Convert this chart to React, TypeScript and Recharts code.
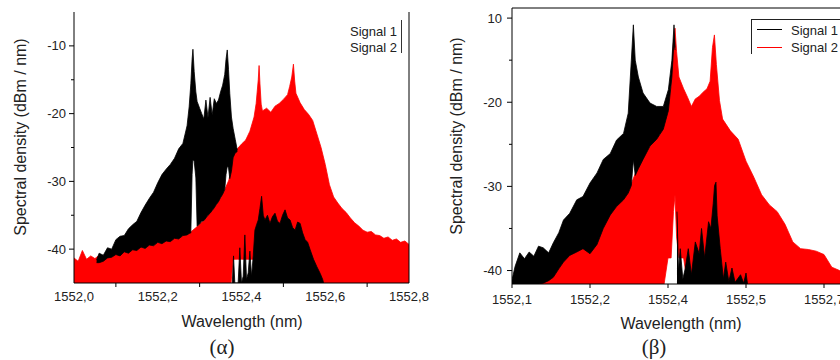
import { ComposedChart, Area, XAxis, YAxis, ReferenceLine } from 'recharts';

// ---- panel (α) ----
const alphaRedWl = [
  1552.0, 1552.01, 1552.02, 1552.03, 1552.04, 1552.05, 1552.06, 1552.07, 1552.08, 1552.09,
  1552.1, 1552.11, 1552.12, 1552.13, 1552.14, 1552.15, 1552.16, 1552.17, 1552.18, 1552.19,
  1552.2, 1552.21, 1552.22, 1552.23, 1552.24, 1552.25, 1552.26, 1552.27, 1552.28, 1552.29,
  1552.3, 1552.31, 1552.32, 1552.33, 1552.34, 1552.35, 1552.36, 1552.37, 1552.375, 1552.38,
  1552.39, 1552.4, 1552.41, 1552.42, 1552.43, 1552.435, 1552.44, 1552.442, 1552.444, 1552.447,
  1552.45, 1552.46, 1552.47, 1552.48, 1552.49, 1552.5, 1552.51, 1552.515, 1552.52, 1552.524,
  1552.527, 1552.53, 1552.54, 1552.55, 1552.56, 1552.57, 1552.58, 1552.59, 1552.6, 1552.61,
  1552.62, 1552.63, 1552.64, 1552.65, 1552.66, 1552.67, 1552.68, 1552.69, 1552.7, 1552.71,
  1552.72, 1552.73, 1552.74, 1552.75, 1552.76, 1552.77, 1552.78, 1552.79, 1552.8,
];
const alphaRedTop = [
  -41.3, -41.8, -40.2, -41.5, -41.0, -41.4, -40.9, -41.2, -40.6, -40.9,
  -40.3, -40.6, -40.0, -40.4, -39.8, -40.1, -39.6, -39.9, -39.3, -39.5,
  -39.0, -39.2, -38.7, -38.9, -38.3, -38.5, -37.9, -37.8, -37.4, -36.9,
  -36.3, -35.8, -35.0, -34.3, -33.4, -32.4, -31.2, -29.8, -28.0, -26.0,
  -25.2, -24.5, -23.9, -22.6, -20.5, -18.5, -15.0, -12.9, -15.5, -18.6,
  -19.6, -19.2, -19.8, -18.9, -18.5, -17.9, -17.2, -16.0, -14.6, -12.7,
  -15.2, -17.0, -18.4, -19.4, -20.1, -21.0, -23.0, -25.0, -27.5, -30.5,
  -32.3, -33.2, -34.0, -34.6, -35.4, -36.1, -36.6, -37.2, -37.5, -37.4,
  -37.9, -38.0, -38.4, -38.2, -38.7, -38.5, -39.0, -38.8, -39.3,
];
const alphaRedLow = [
  -45, -45, -45, -45, -45, -45, -45, -45, -45, -45,
  -45, -45, -45, -45, -45, -45, -45, -45, -45, -45,
  -45, -45, -45, -45, -45, -45, -45, -45, -45, -45,
  -45, -45, -45, -45, -45, -45, -45, -45, -45, -41.5,
  -41.5, -41.5, -41.5, -41.5, -41.5, -45, -45, -45, -45, -45,
  -45, -45, -45, -45, -45, -45, -45, -45, -45, -45,
  -45, -45, -45, -45, -45, -45, -45, -45, -45, -45,
  -45, -45, -45, -45, -45, -45, -45, -45, -45, -45,
  -45, -45, -45, -45, -45, -45, -45, -45, -45,
];

const alphaBlackWl = [
  1552.054, 1552.06, 1552.07, 1552.08, 1552.09, 1552.1, 1552.11, 1552.12, 1552.13, 1552.14,
  1552.15, 1552.16, 1552.17, 1552.18, 1552.19, 1552.2, 1552.21, 1552.22, 1552.23, 1552.24,
  1552.25, 1552.26, 1552.27, 1552.275, 1552.279, 1552.282, 1552.284, 1552.287, 1552.291, 1552.294,
  1552.3, 1552.305, 1552.31, 1552.315, 1552.32, 1552.325, 1552.33, 1552.335, 1552.34, 1552.345,
  1552.35, 1552.355, 1552.36, 1552.363, 1552.366, 1552.369, 1552.372, 1552.376, 1552.38, 1552.385,
  1552.39,
];
const alphaBlackTop = [
  -41.6, -40.6, -40.9, -39.8, -40.0, -38.6, -38.1, -38.0, -37.0, -36.4,
  -35.9, -34.6, -33.5, -32.5, -31.6, -30.2, -29.0, -28.2, -27.5, -26.6,
  -25.2, -24.4, -21.8, -19.0, -15.6, -12.0, -10.5, -13.8, -16.8, -18.2,
  -19.2, -20.0, -20.8, -18.0, -20.6, -17.6, -20.2, -17.8, -18.5, -18.0,
  -16.8, -15.8, -14.2, -12.0, -10.6, -13.5, -17.0, -20.5, -22.2, -23.8,
  -25.4,
];
const alphaBlackLow = [
  -42.0, -42.0, -41.8, -41.3, -41.2, -40.8, -41.0, -40.4, -40.6, -40.1,
  -40.2, -39.7, -39.9, -39.4, -39.5, -39.0, -39.2, -38.8, -38.9, -38.4,
  -38.5, -38.0, -37.9, -37.7, -37.6, -29.0, -26.8, -27.0, -29.5, -36.6,
  -36.3, -35.9, -35.8, -35.4, -35.0, -34.7, -34.3, -33.9, -33.4, -33.0,
  -32.4, -31.9, -31.2, -29.0, -27.8, -28.0, -29.6, -28.5, -26.5, -25.8,
  -25.6,
];

// weak second band of signal 1, standing on the floor
const alphaTailWl = [
  1552.378, 1552.381, 1552.384, 1552.392, 1552.396, 1552.4, 1552.404, 1552.408, 1552.412, 1552.416,
  1552.42, 1552.424, 1552.428, 1552.432, 1552.436, 1552.44, 1552.444, 1552.448, 1552.452, 1552.456,
  1552.462, 1552.468, 1552.474, 1552.48, 1552.486, 1552.492, 1552.498, 1552.504, 1552.51, 1552.516,
  1552.522, 1552.528, 1552.534, 1552.54, 1552.546, 1552.552, 1552.558, 1552.564, 1552.572, 1552.58,
  1552.588, 1552.594, 1552.596,
];
const alphaTailTop = [
  -45.0, -41.0, -45.0, -45.0, -39.8, -45.0, -44.0, -37.9, -44.5, -43.5,
  -40.3, -44.0, -41.0, -37.2, -36.4, -35.7, -34.0, -32.2, -35.0, -35.7,
  -35.0, -36.2, -35.2, -34.7, -35.9, -36.2, -35.0, -34.2, -35.4, -35.7,
  -36.8, -37.2, -36.0, -36.2, -37.6, -38.6, -39.0, -40.1, -41.5, -42.6,
  -43.6, -44.5, -45.0,
];

const alphaXTicks = [1552.0, 1552.1, 1552.2, 1552.3, 1552.4, 1552.5, 1552.6, 1552.7, 1552.8];
const alphaXLabels = ['1552,0', '', '1552,2', '', '1552,4', '', '1552,6', '', '1552,8'];
const alphaYTicks = [-40, -35, -30, -25, -20, -15, -10];
const alphaYLabels = ['-40', '', '-30', '', '-20', '', '-10'];

// ---- panel (β) ----
const betaRedWl = [
  1552.1, 1552.11, 1552.12, 1552.13, 1552.14, 1552.15, 1552.16, 1552.17, 1552.18, 1552.19,
  1552.2, 1552.21, 1552.22, 1552.23, 1552.24, 1552.25, 1552.26, 1552.27, 1552.28, 1552.29,
  1552.295, 1552.3, 1552.304, 1552.307, 1552.309, 1552.311, 1552.314, 1552.32, 1552.325, 1552.33,
  1552.335, 1552.34, 1552.345, 1552.35, 1552.354, 1552.357, 1552.3595, 1552.362, 1552.366, 1552.37,
  1552.38, 1552.39, 1552.4, 1552.41, 1552.42, 1552.43, 1552.44, 1552.45, 1552.46, 1552.47,
  1552.48, 1552.49, 1552.5, 1552.51, 1552.52, 1552.53, 1552.54, 1552.55,
];
const betaRedTop = [
  -41.5, -41.2, -40.8, -41.0, -40.6, -40.0, -39.2, -38.4, -37.6, -37.2,
  -37.8, -36.6, -34.0, -32.6, -31.6, -30.4, -28.0, -26.2, -24.8, -23.8,
  -22.6, -21.0, -18.1, -13.0, -11.2, -14.0, -17.0, -18.4, -19.4, -20.5,
  -19.6, -19.3, -18.8, -18.4, -17.5, -13.5, -12.0, -15.5, -19.8, -22.0,
  -23.4, -24.4, -27.0, -28.9, -31.0, -32.2, -33.0, -34.5, -36.6, -37.4,
  -37.5, -37.7, -38.1, -39.6, -40.0, -40.4, -40.2, -40.6,
];
const betaRedLow = [
  -41.6, -41.6, -41.6, -41.6, -41.6, -41.6, -41.6, -41.6, -41.6, -41.6,
  -41.6, -41.6, -41.6, -41.6, -41.6, -41.6, -41.6, -41.6, -41.6, -41.6,
  -41.6, -38.5, -38.5, -33.0, -31.0, -36.0, -38.5, -38.5, -41.6, -41.6,
  -41.6, -41.6, -41.6, -41.6, -41.6, -41.6, -41.6, -41.6, -41.6, -41.6,
  -41.6, -41.6, -41.6, -41.6, -41.6, -41.6, -41.6, -41.6, -41.6, -41.6,
  -41.6, -41.6, -41.6, -41.6, -41.6, -41.6, -41.6, -41.6,
];

const betaBlackWl = [
  1552.1, 1552.104, 1552.11, 1552.116, 1552.122, 1552.128, 1552.134, 1552.14, 1552.147, 1552.153,
  1552.16, 1552.166, 1552.174, 1552.183, 1552.191, 1552.2, 1552.209, 1552.217, 1552.226, 1552.234,
  1552.243, 1552.249, 1552.253, 1552.2556, 1552.258, 1552.262, 1552.268, 1552.277, 1552.2855, 1552.294,
  1552.3005, 1552.305, 1552.3077, 1552.309,
];
const betaBlackTop = [
  -41.1, -39.5, -37.9, -38.6, -37.8, -38.3, -37.1, -37.3, -37.9, -36.7,
  -35.5, -34.0, -33.2, -31.6, -31.2, -29.6, -28.4, -26.8, -26.1, -24.5,
  -23.7, -21.3, -15.0, -10.8, -15.0, -17.0, -18.9, -20.1, -20.5, -20.5,
  -18.5, -15.0, -10.8, -13.5,
];
const betaBlackLow = [
  -41.6, -41.6, -41.6, -41.6, -41.6, -41.6, -41.6, -41.5, -41.2, -40.8,
  -39.8, -39.0, -38.2, -37.8, -37.4, -38.0, -36.9, -35.0, -33.4, -32.4,
  -31.6, -30.8, -29.9, -26.8, -28.7, -27.9, -26.8, -25.2, -24.4, -23.2,
  -21.0, -17.0, -12.6, -13.8,
];

const betaTailWl = [
  1552.3115, 1552.3135, 1552.3157, 1552.319, 1552.322, 1552.326, 1552.33, 1552.335, 1552.34, 1552.343,
  1552.347, 1552.352, 1552.355, 1552.358, 1552.3597, 1552.3615, 1552.363, 1552.367, 1552.371, 1552.374,
  1552.378, 1552.382, 1552.386, 1552.393, 1552.397, 1552.4, 1552.402,
];
const betaTailTop = [
  -33.0, -40.0, -37.4, -41.0, -39.8, -37.4, -40.5, -36.6, -38.0, -35.0,
  -38.5, -34.2, -35.0, -32.0, -29.9, -29.5, -33.5, -37.4, -41.0, -39.0,
  -41.3, -39.7, -41.4, -40.5, -41.5, -40.3, -41.6,
];

const betaXTicks = [1552.1, 1552.2, 1552.3, 1552.4, 1552.5];
const betaXLabels = ['1552,1', '1552,2', '1552,4', '1552,5', '1552,7'];
const betaYTicks = [-40, -35, -30, -25, -20, -15, -10];
const betaYLabels = ['-40', '', '-30', '', '-20', '', '10'];

const FONT = '"Liberation Sans", Arial, Helvetica, sans-serif';
const RED = '#ff0000';

const band = (wl: number[], low: number[], top: number[]) =>
  wl.map((w, i) => ({ w, v: [low[i], top[i]] }));
const line = (wl: number[], top: number[]) => wl.map((w, i) => ({ w, v: top[i] }));

const labelFor = (ticks: number[], labels: string[], value: number) => {
  const i = ticks.findIndex((t) => Math.abs(t - value) < 1e-6);
  return i < 0 ? '' : labels[i];
};

const bottomTick = (ticks: number[], labels: string[], gap: number, tickAll: boolean) => (p: any) => {
  const label = labelFor(ticks, labels, p.payload.value);
  return (
    <g>
      {(tickAll || label === '') && <line x1={p.x} x2={p.x} y1={p.y} y2={p.y + 4} stroke="#000" />}
      {label !== '' && (
        <text x={p.x} y={p.y + gap} textAnchor="middle" fontSize={13} fontFamily={FONT} fill="#222">
          {label}
        </text>
      )}
    </g>
  );
};

const leftTick = (ticks: number[], labels: string[], gap: number) => (p: any) => {
  const label = labelFor(ticks, labels, p.payload.value);
  const major = label !== '';
  return (
    <g>
      <line x1={p.x} x2={p.x - (major ? 5 : 3)} y1={p.y} y2={p.y} stroke="#000" />
      {major && (
        <text x={p.x - gap} y={p.y + 4.5} textAnchor="end" fontSize={13} fontFamily={FONT} fill="#222">
          {label}
        </text>
      )}
    </g>
  );
};

const Txt = ({ x, y, size = 16, serif = false, rotate = false, anchor = 'center', children }: any) => (
  <div
    style={{
      position: 'absolute',
      left: x,
      top: y,
      transform: `translate(${anchor === 'center' ? '-50%' : anchor === 'end' ? '-100%' : '0'}, -50%)${rotate ? ' rotate(-90deg)' : ''}`,
      fontSize: size,
      fontFamily: serif ? '"Liberation Serif", "Times New Roman", serif' : FONT,
      color: '#222',
      whiteSpace: 'nowrap',
      lineHeight: 1,
    }}
  >
    {children}
  </div>
);

export default function App() {
  return (
    <div style={{ position: 'absolute', left: 0, top: 0, width: 840, height: 360, overflow: 'hidden', background: '#fff' }}>
      <div style={{ position: 'absolute', left: 0, top: 0 }}>
        <ComposedChart width={440} height={360} margin={{ top: 12, right: 31, bottom: 47, left: 14 }}>
          <XAxis
            type="number"
            dataKey="w"
            domain={[1552.0, 1552.8]}
            ticks={alphaXTicks}
            interval={0}
            tickSize={0}
            tickMargin={0}
            tick={bottomTick(alphaXTicks, alphaXLabels, 17.5, false)}
            axisLine={{ stroke: '#000' }}
            height={30}
            allowDataOverflow
          />
          <YAxis
            type="number"
            domain={[-45, -5]}
            ticks={alphaYTicks}
            interval={0}
            tickSize={0}
            tickMargin={0}
            tick={leftTick(alphaYTicks, alphaYLabels, 8)}
            axisLine={{ stroke: '#000' }}
            width={60}
            allowDataOverflow
          />
          <Area data={band(alphaRedWl, alphaRedLow, alphaRedTop)} dataKey="v" type="linear" stroke={RED} strokeWidth={0.8} fill={RED} fillOpacity={1} dot={false} activeDot={false} isAnimationActive={false} />
          <Area data={band(alphaBlackWl, alphaBlackLow, alphaBlackTop)} dataKey="v" type="linear" stroke="#000" strokeWidth={0.8} fill="#000" fillOpacity={1} dot={false} activeDot={false} isAnimationActive={false} />
          <Area data={line(alphaTailWl, alphaTailTop)} dataKey="v" baseValue={-45} type="linear" stroke="#000" strokeWidth={0.8} fill="#000" fillOpacity={1} dot={false} activeDot={false} isAnimationActive={false} />
          <ReferenceLine x={1552.8} stroke="#000" />
        </ComposedChart>
      </div>

      <div style={{ position: 'absolute', left: 420, top: 0 }}>
        <ComposedChart width={460} height={360} margin={{ top: 8, right: 17, bottom: 46, left: 32 }}>
          <XAxis
            type="number"
            dataKey="w"
            domain={[1552.1, 1552.55]}
            ticks={betaXTicks}
            interval={0}
            tickSize={0}
            tickMargin={0}
            tick={bottomTick(betaXTicks, betaXLabels, 19.5, true)}
            axisLine={{ stroke: '#000' }}
            height={30}
            allowDataOverflow
          />
          <YAxis
            type="number"
            domain={[-41.6, -8.8]}
            ticks={betaYTicks}
            interval={0}
            tickSize={0}
            tickMargin={0}
            tick={leftTick(betaYTicks, betaYLabels, 10)}
            axisLine={{ stroke: '#000' }}
            width={60}
            allowDataOverflow
          />
          <Area data={band(betaRedWl, betaRedLow, betaRedTop)} dataKey="v" type="linear" stroke={RED} strokeWidth={0.8} fill={RED} fillOpacity={1} dot={false} activeDot={false} isAnimationActive={false} />
          <Area data={band(betaBlackWl, betaBlackLow, betaBlackTop)} dataKey="v" type="linear" stroke="#000" strokeWidth={0.8} fill="#000" fillOpacity={1} dot={false} activeDot={false} isAnimationActive={false} />
          <Area data={line(betaTailWl, betaTailTop)} dataKey="v" baseValue={-41.6} type="linear" stroke="#000" strokeWidth={0.8} fill="#000" fillOpacity={1} dot={false} activeDot={false} isAnimationActive={false} />
          <ReferenceLine y={-8.8} stroke="#000" />
        </ComposedChart>
      </div>

      {/* titles and captions */}
      <Txt x={21} y={137} rotate>Spectral density (dBm / nm)</Txt>
      <Txt x={242} y={322}>Wavelength (nm)</Txt>
      <Txt x={222} y={347} size={21} serif>(α)</Txt>
      <Txt x={457} y={136} rotate>Spectral density (dBm / nm)</Txt>
      <Txt x={681} y={324}>Wavelength (nm)</Txt>
      <Txt x={654} y={347} size={21} serif>(β)</Txt>

      {/* legend (α) */}
      <Txt x={397} y={31} size={13} anchor="end">Signal 1</Txt>
      <Txt x={397} y={47} size={13} anchor="end">Signal 2</Txt>
      <div style={{ position: 'absolute', left: 401, top: 20, width: 1, height: 33, background: '#333' }} />

      {/* legend (β) */}
      <div style={{ position: 'absolute', left: 751, top: 19, width: 100, height: 34, borderLeft: '1px solid #222', borderTop: '1px solid #222' }} />
      <div style={{ position: 'absolute', left: 757, top: 29, width: 25, height: 1, background: '#000' }} />
      <div style={{ position: 'absolute', left: 757, top: 47, width: 25, height: 1, background: RED }} />
      <Txt x={791} y={30} size={13} anchor="start">Signal 1</Txt>
      <Txt x={791} y={47} size={13} anchor="start">Signal 2</Txt>
    </div>
  );
}
